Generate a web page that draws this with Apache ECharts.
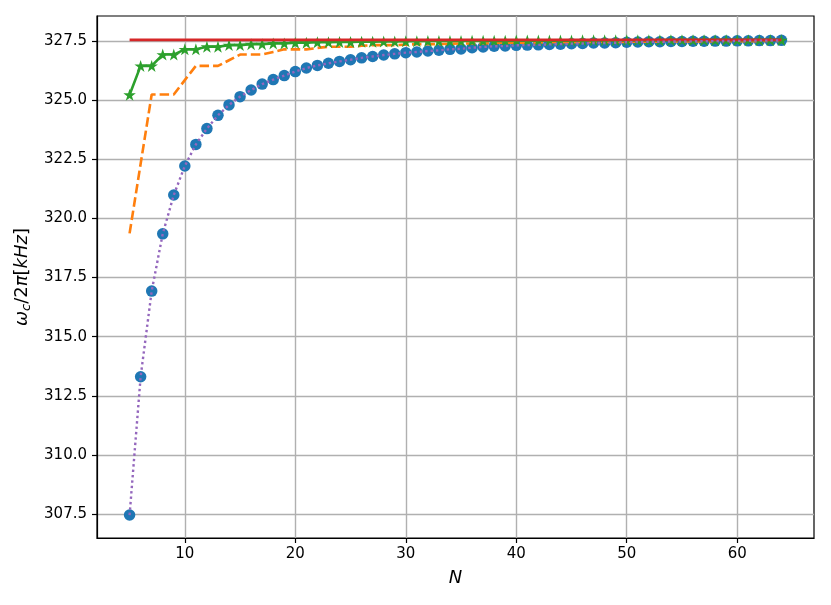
<!DOCTYPE html>
<html>
<head>
<meta charset="utf-8">
<script src="https://cdn.jsdelivr.net/npm/echarts@6/dist/echarts.min.js"></script>
<style>
  html, body { margin: 0; padding: 0; background: #fff; }
  #chart { width: 831px; height: 605px; }
</style>
</head>
<body>
<div id="chart"></div>
<script>
// N values (x axis)
const nValues = [5, 6, 7, 8, 9, 10, 11, 12, 13, 14, 15, 16, 17, 18, 19, 20, 21, 22, 23, 24,
  25, 26, 27, 28, 29, 30, 31, 32, 33, 34, 35, 36, 37, 38, 39, 40, 41, 42, 43, 44,
  45, 46, 47, 48, 49, 50, 51, 52, 53, 54, 55, 56, 57, 58, 59, 60, 61, 62, 63, 64];

// blue circles + purple dotted line
const circleValues = [307.46, 313.31, 316.93, 319.35, 320.99, 322.22, 323.13, 323.80, 324.36, 324.80,
  325.15, 325.43, 325.68, 325.87, 326.04, 326.21, 326.36, 326.47, 326.56, 326.64,
  326.71, 326.79, 326.85, 326.91, 326.96, 327.01, 327.04, 327.08, 327.11, 327.15,
  327.17, 327.22, 327.25, 327.28, 327.29, 327.32, 327.33, 327.34, 327.36, 327.37,
  327.39, 327.40, 327.42, 327.42, 327.43, 327.45, 327.46, 327.47, 327.47, 327.48,
  327.48, 327.49, 327.49, 327.50, 327.50, 327.51, 327.51, 327.52, 327.52, 327.53];

// orange dashed
const dashedValues = [319.37, 322.31, 325.24, 325.24, 325.24, 325.85, 326.45, 326.45, 326.45, 326.69,
  326.93, 326.93, 326.93, 327.04, 327.15, 327.15, 327.15, 327.21, 327.26, 327.26,
  327.26, 327.30, 327.33, 327.33, 327.33, 327.35, 327.37, 327.37, 327.37, 327.39,
  327.40, 327.40, 327.40, 327.42, 327.43, 327.43, 327.43, 327.44, 327.45, 327.45,
  327.45, 327.46, 327.46, 327.46, 327.46, 327.47, 327.47, 327.47, 327.47, 327.48,
  327.48, 327.48, 327.48, 327.49, 327.49, 327.49, 327.49, 327.50, 327.50, 327.50];

// green stars
const starValues = [325.23, 326.45, 326.45, 326.93, 326.93, 327.15, 327.15, 327.26, 327.26, 327.33,
  327.33, 327.37, 327.37, 327.40, 327.40, 327.43, 327.43, 327.45, 327.45, 327.46,
  327.46, 327.47, 327.47, 327.48, 327.48, 327.49, 327.49, 327.50, 327.50, 327.50,
  327.50, 327.51, 327.51, 327.51, 327.51, 327.52, 327.52, 327.52, 327.52, 327.52,
  327.52, 327.53, 327.53, 327.53, 327.53, 327.53, 327.53, 327.53, 327.53, 327.54,
  327.54, 327.54, 327.54, 327.54, 327.54, 327.54, 327.54, 327.54, 327.54, 327.54];

// red reference level
const limitValue = 327.55;

const xTicks = [10, 20, 30, 40, 50, 60];
const yTicks = [307.5, 310.0, 312.5, 315.0, 317.5, 320.0, 322.5, 325.0, 327.5];

const pairs = (ys) => nValues.map((n, i) => [n, ys[i]]);

const starPath = 'path://M50 0L61.23 34.55L97.55 34.55L68.16 55.9L79.39 90.45L50 69.1L20.61 90.45L31.84 55.9L2.45 34.55L38.77 34.55Z';

const chart = echarts.init(document.getElementById('chart'), null, { renderer: 'canvas' });

const font = 'DejaVu Sans';
const gridLine = { show: true, lineStyle: { color: '#b0b0b0', width: 1.4 } };

chart.setOption({
  animation: false,
  backgroundColor: '#fff',
  textStyle: { fontFamily: font },
  grid: {
    left: 97, right: 17, top: 16, bottom: 67,
    show: true, borderColor: '#000', borderWidth: 1.2, backgroundColor: 'transparent'
  },
  xAxis: {
    type: 'value',
    min: 2.05,
    max: 66.95,
    name: 'N',
    nameLocation: 'middle',
    nameGap: 31,
    nameTextStyle: { fontFamily: font, fontSize: 18, fontStyle: 'italic', color: '#000' },
    axisLine: { show: true, onZero: false, lineStyle: { color: '#000', width: 1.2 } },
    axisTick: { show: true, customValues: xTicks, length: 5, lineStyle: { color: '#000', width: 1.2 } },
    axisLabel: { customValues: xTicks, fontFamily: font, fontSize: 15, color: '#000', margin: 9 },
    splitLine: gridLine
  },
  yAxis: {
    type: 'value',
    min: 306.49,
    max: 328.56,
    name: '{i|ω}{s|c}{n|/2}{i|π}{n|[}{i|kHz}{n|]}',
    nameLocation: 'middle',
    nameRotate: 90,
    nameGap: 62,
    nameTextStyle: {
      color: '#000',
      rich: {
        i: { fontFamily: font, fontSize: 18, fontStyle: 'italic', lineHeight: 22, color: '#000' },
        n: { fontFamily: font, fontSize: 18, lineHeight: 22, color: '#000' },
        s: { fontFamily: font, fontSize: 13, fontStyle: 'italic', lineHeight: 13, verticalAlign: 'bottom', color: '#000' }
      }
    },
    axisLine: { show: true, onZero: false, lineStyle: { color: '#000', width: 1.2 } },
    axisTick: { show: true, customValues: yTicks, length: 5, lineStyle: { color: '#000', width: 1.2 } },
    axisLabel: {
      customValues: yTicks, fontFamily: font, fontSize: 15, color: '#000', margin: 10,
      formatter: (v) => v.toFixed(1)
    },
    splitLine: gridLine
  },
  series: [
    {
      type: 'scatter',
      data: pairs(circleValues),
      symbol: 'circle',
      symbolSize: 11.5,
      itemStyle: { color: '#1f77b4', opacity: 1 },
      z: 2
    },
    {
      type: 'line',
      data: pairs(dashedValues),
      showSymbol: false,
      symbol: 'none',
      lineStyle: { color: '#ff7f0e', width: 2.6, type: [9.5, 4] },
      z: 3
    },
    {
      type: 'line',
      data: pairs(starValues),
      symbol: starPath,
      symbolSize: [12.5, 12],
      showAllSymbol: true,
      itemStyle: { color: '#2ca02c', borderWidth: 0 },
      lineStyle: { color: '#2ca02c', width: 2.6 },
      z: 4
    },
    {
      type: 'line',
      data: [[nValues[0], limitValue], [nValues[nValues.length - 1], limitValue]],
      symbol: 'none',
      lineStyle: { color: '#d62728', width: 2.6 },
      z: 5
    },
    {
      type: 'line',
      data: pairs(circleValues),
      symbol: 'none',
      lineStyle: { color: '#9467bd', width: 2.4, type: [2.4, 3] },
      z: 6
    }
  ]
});
</script>
</body>
</html>
